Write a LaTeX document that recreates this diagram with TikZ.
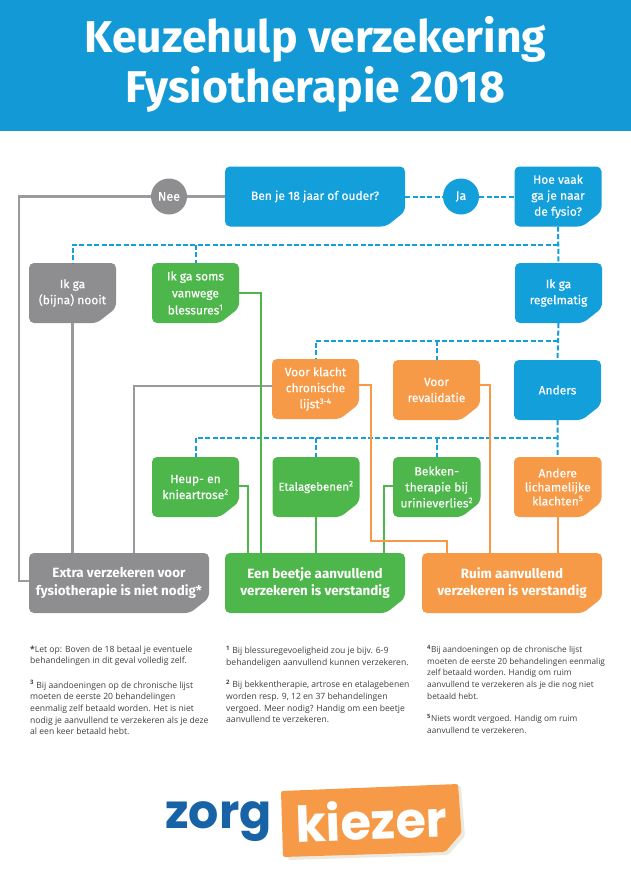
\documentclass[tikz,border=0pt]{standalone}
\usepackage{fontspec}
\setmainfont{Fira Sans}
\newfontfamily\cardfont[FakeBold=0.25]{Fira Sans}
\newfontfamily\notefont{Open Sans}
\newfontfamily\logofont{Poppins}
\definecolor{kblue}{HTML}{129FDA}
\definecolor{hblue}{HTML}{1299D6}
\definecolor{kgrey}{HTML}{8E8E90}
\definecolor{kgreen}{HTML}{4EB74C}
\definecolor{korange}{HTML}{F79A47}
\definecolor{kline}{HTML}{9A9A9C}
\definecolor{knote}{HTML}{3F3F41}
\definecolor{klogo}{HTML}{1763A6}
\definecolor{kshadow}{HTML}{EEE9DF}
\tikzset{
  cardtext/.style={inner sep=0pt,align=center,text=white},
  badge/.style={circle,minimum size=36pt,inner sep=0pt,text=white,font=\cardfont\fontsize{12.5}{15}\selectfont},
  yes/.style={draw=kblue,line width=2pt,dash pattern=on 5pt off 2.4pt},
  nogrey/.style={draw=kline,line width=2.1pt},
  wgreen/.style={draw=kgreen,line width=2pt},
  worange/.style={draw=korange,line width=2pt},
  note/.style={anchor=north west,inner sep=0pt,align=left,text=knote,font=\notefont\fontsize{8.6}{11.6}\selectfont},
  noteb/.style={note,font=\notefont\fontsize{8.3}{11.6}\selectfont},
}
% [font], name, x1, y1, x2, y2, colour, text
\newcommand{\cardbox}[8][\cardfont\fontsize{12}{16}\selectfont]{%
  \fill[#7,rounded corners=5pt] (#3,#4) -- (#5,#4) -- ({#5},{#6-15}) -- ({#5-19},{#6}) -- (#3,#6) -- cycle;
  \node[cardtext,font=#1,minimum width=#5pt-#3pt,minimum height=#6pt-#4pt] (#2) at ({(#3+#5)/2},{(#4+#6)/2}) {#8};
}
\newcommand{\upp}[1]{\textsuperscript{#1}}
\begin{document}
\begin{tikzpicture}[x=1pt,y=-1pt]
\useasboundingbox (0,0) rectangle (631,894);
\fill[white] (0,0) rectangle (631,894);
\fill[hblue] (0,0) rectangle (631,131);
\node[text=white,font=\bfseries\fontsize{44.5}{50}\selectfont,align=center,inner sep=0pt] (title) at (315.5,64) {Keuzehulp verzekering\\Fysiotherapie 2018};

\cardbox{vraag}{225}{166.5}{405}{226.5}{kblue}{Ben je 18 jaar of ouder?}
\cardbox{hoe}{514.5}{166.5}{601.5}{226.5}{kblue}{Hoe vaak\\ga je naar\\de fysio?}
\node[badge,fill=kgrey] (nee) at (169,196.5) {Nee};
\node[badge,fill=kblue] (ja) at (461,196.5) {Ja};

\cardbox{nooit}{29}{263}{116}{323}{kgrey}{Ik ga\\(bijna) nooit}
\cardbox[\cardfont\fontsize{12}{17}\selectfont]{soms}{152}{263}{239}{323}{kgreen}{Ik ga soms\\vanwege\\blessures\upp{1}}
\cardbox{regel}{515}{263}{602}{323}{kblue}{Ik ga\\regelmatig}

\cardbox{klacht}{272}{359}{359}{419}{korange}{Voor klacht\\chronische\\lijst\upp{3-4}}
\cardbox{reval}{393}{360}{480}{420}{korange}{Voor\\revalidatie}
\cardbox{anders}{514}{360}{601}{420}{kblue}{Anders}

\cardbox{heup}{152}{457}{239}{517}{kgreen}{Heup- en\\knieartrose\upp{2}}
\cardbox[\cardfont\fontsize{11.5}{16}\selectfont]{etalage}{272.5}{457}{359.5}{517}{kgreen}{Etalagebenen\upp{2}}
\cardbox{bekken}{393}{457}{480.5}{517}{kgreen}{Bekken-\\therapie bij\\urinieverlies\upp{2}}
\cardbox[\cardfont\fontsize{12}{14}\selectfont]{andere}{514}{457}{601.5}{517}{korange}{Andere\\lichamelijke\\klachten\upp{5}}

\cardbox[\bfseries\fontsize{13.4}{17.5}\selectfont]{extra}{29}{553}{209}{613}{kgrey}{Extra verzekeren voor\\fysiotherapie is niet nodig*}
\cardbox[\bfseries\fontsize{13.4}{17.5}\selectfont]{beetje}{225}{553}{405}{613}{kgreen}{Een beetje aanvullend\\verzekeren is verstandig}
\cardbox[\bfseries\fontsize{13.4}{17.5}\selectfont]{ruim}{422}{553}{602}{613}{korange}{Ruim aanvullend\\verzekeren is verstandig}

% dashed "question" lines
\coordinate (bus1) at (558,245);
\coordinate (bus2) at (558,341);
\coordinate (bus3) at (558,438);
\draw[yes] (vraag.east) -- (ja);
\draw[yes] (ja) -- (hoe.west);
\draw[yes] (hoe.south) -- (regel.north);
\draw[yes] (bus1) -- (bus1 -| nooit.north) -- (nooit.north);
\draw[yes] (bus1 -| soms.north) -- (soms.north);
\draw[yes] (regel.south) -- (anders.north);
\draw[yes] (bus2) -- (bus2 -| klacht.north) -- (klacht.north);
\draw[yes] (bus2 -| reval.north) -- (reval.north);
\draw[yes] (anders.south) -- (andere.north);
\draw[yes] (bus3) -- (bus3 -| heup.north) -- (heup.north);
\draw[yes] (bus3 -| etalage.north) -- (etalage.north);
\draw[yes] (bus3 -| bekken.north) -- (bekken.north);

% grey lines
\draw[nogrey] (vraag.west) -- (nee);
\draw[nogrey] (nee) -- (19,196.5) -- (19,581) -- (extra.west |- 0,581);
\draw[nogrey] (nooit.south) -- (nooit.south |- extra.north);
\draw[nogrey] ([yshift=3pt]klacht.west) -- (134,386) -- (134,553);

% green lines
\draw[wgreen] (soms.east) -- (261,293) -- (261,553);
\draw[wgreen] ([yshift=1pt]heup.east) -- (248,486) -- (248,553);
\draw[wgreen] (etalage.south) -- (etalage.south |- beetje.north);
\draw[wgreen] ([yshift=1pt]bekken.west) -- (384,486) -- (384,553);

% orange lines
\draw[worange] ([yshift=4pt]klacht.east) -- (371,385) -- (371,541) -- (447,541) -- (447,553);
\draw[worange] ([yshift=5pt]reval.east) -- (490,385) -- (490,553);
\draw[worange] (andere.south) -- (andere.south |- ruim.north);

% footnotes
\node[note] (n1) at (30,645.5) {\textbf{*}Let op: Boven de 18 betaal je eventuele\\behandelingen in dit geval volledig zelf.};
\node[note] (n2) at (30,680) {\upp{\textbf{3}} Bij aandoeningen op de chronische lijst\\moeten de eerste 20 behandelingen\\eenmalig zelf betaald worden. Het is niet\\nodig je aanvullend te verzekeren als je deze\\al een keer betaald hebt.};
\node[note] (n3) at (226,645.5) {\upp{\textbf{1}} Bij blessuregevoeligheid zou je bijv. 6-9\\behandeligen aanvullend kunnen verzekeren.};
\node[note] (n4) at (226,679.5) {\upp{\textbf{2}} Bij bekkentherapie, artrose en etalagebenen\\worden resp. 9, 12 en 37 behandelingen\\vergoed. Meer nodig? Handig om een beetje\\aanvullend te verzekeren.};
\node[noteb] (n5) at (427,645.5) {\upp{\textbf{4}}Bij aandoeningen op de chronische lijst\\moeten de eerste 20 behandelingen eenmalig\\zelf betaald worden. Handig om ruim\\aanvullend te verzekeren als je die nog niet\\betaald hebt.};
\node[noteb] (n6) at (427,714.5) {\upp{\textbf{5}}Niets wordt vergoed. Handig om ruim\\aanvullend te verzekeren.};

% logo
\fill[kshadow,rounded corners=2pt] (286,795) -- (461,786) -- (465,836) -- (448,855) -- (288,860) -- cycle;
\fill[korange,rounded corners=2pt] (281,791) -- (458,784) -- (461.5,833) -- (445,852) -- (283,857) -- cycle;
\node[text=klogo,font=\logofont\bfseries\fontsize{47.5}{48}\selectfont,inner sep=0pt] (zorg) at (218.5,822) {zorg};
\node[text=white,font=\logofont\bfseries\fontsize{49.5}{50}\selectfont,inner sep=0pt,rotate=2] (kiezer) at (371.5,820) {kiezer};
\end{tikzpicture}
\end{document}
